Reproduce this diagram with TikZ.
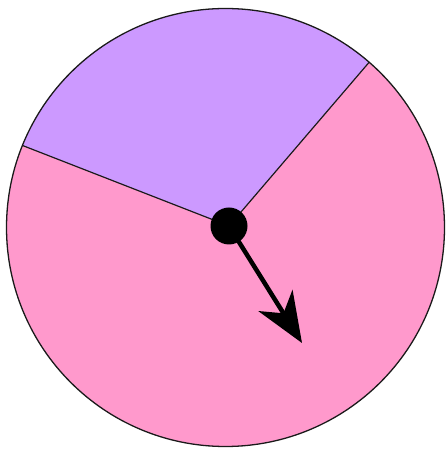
\documentclass[tikz,border=0pt]{standalone}
\usepackage{xcolor}
\usepackage{tikz}
\usetikzlibrary{arrows.meta,positioning,calc}
\definecolor{spinPurple}{HTML}{CC99FF}
\definecolor{spinPink}{HTML}{FF99CC}
\definecolor{spinLine}{HTML}{1A1A1A}
\tikzset{
  rim/.style={draw=spinLine, line width=1.3pt},
  divider/.style={draw=spinLine, line width=1.2pt},
  hubdot/.style={
    circle,
    fill=black,
    inner sep=0pt,
    minimum size=37pt
  },
  pointer/.style={-{Stealth[length=50pt, width=40pt, inset=15pt]}, line width=4.5pt, draw=black}
}
\begin{document}
\begin{tikzpicture}[x=1pt, y=1pt]
  \useasboundingbox (0,0) rectangle (446,450);
  \coordinate (wheel) at (225.5,222.5);
  \coordinate (pivot) at (229,224);
  \coordinate (edgeA) at ($(wheel)+(49:219)$);
  \coordinate (edgeB) at ($(wheel)+(158:219)$);
  \coordinate (tip) at (302,107);
  % wheel
  \fill[spinPink] (wheel) circle[radius=219];
  \fill[spinPurple] (pivot) -- (edgeA) arc[start angle=49, end angle=158, radius=219] -- cycle;
  \draw[divider] (pivot) -- (edgeA);
  \draw[divider] (pivot) -- (edgeB);
  \draw[rim] (wheel) circle[radius=219];
  % pointer
  \node[hubdot] (hub) at (pivot) {};
  \draw[pointer] (hub.center) -- (tip);
\end{tikzpicture}
\end{document}
